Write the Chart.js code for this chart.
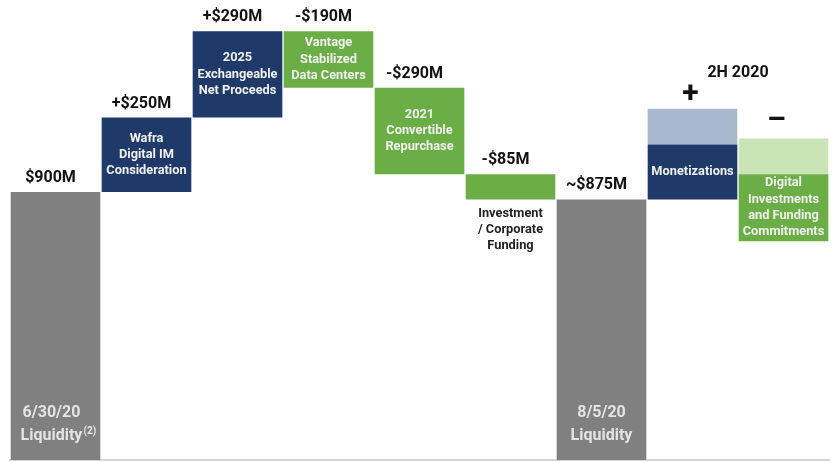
<!DOCTYPE html>
<html>
<head>
<meta charset="utf-8">
<script src="https://cdn.jsdelivr.net/npm/chart.js@4"></script>
<style>
  body { margin: 0; background: #fff; }
  #wrap { width: 832px; height: 462px; }
</style>
</head>
<body>
<div id="wrap"><canvas id="liquidityChart" width="832" height="462"></canvas></div>
<script>
// Bridge of liquidity ($M), waterfall bars as [start, end]
const categories = ["6/30/20 Liquidity", "Wafra Digital IM", "2025 Exchangeable", "Vantage", "2021 Convertible",
    "Investment / Corporate", "8/5/20 Liquidity", "Monetizations", "Digital Investments"];
const barStart = [0, 900, 1150, 1250, 960, 875, 0, 875, 735];
const barEnd = [900, 1150, 1440, 1440, 1250, 960, 875, 1060, 960];
// lighter "range" blocks on the 2H 2020 bars
const rangeStart = [null, null, null, null, null, null, null, 1060, 960];
const rangeEnd = [null, null, null, null, null, null, null, 1180, 1080];
const valueLabels = ["$900M", "+$250M", "+$290M", "-$190M", "-$290M", "-$85M", "~$875M", "", ""];
const innerLabels = [
    [],
    ["Wafra", "Digital IM", "Consideration"],
    ["2025", "Exchangeable", "Net Proceeds"],
    ["Vantage", "Stabilized", "Data Centers"],
    ["2021", "Convertible", "Repurchase"],
    [],
    [],
    ["Monetizations"],
    ["Digital", "Investments", "and Funding", "Commitments"]
];
const belowLabels = [[], [], [], [], [], ["Investment", "/ Corporate", "Funding"], [], [], []];
const baseLabels = [["6/30/20", "Liquidity"], [], [], [], [], [], ["8/5/20", "Liquidity"], [], []];

const gray = "#808080", navy = "#1f3a68", green = "#6cae46";
const barColors = [gray, navy, navy, green, green, green, gray, navy, green];
const rangeColors = [null, null, null, null, null, null, null, "#a9b8cd", "#cbe4b6"];

const FONT = "Roboto, 'Liberation Sans', Arial, sans-serif";

const labelPlugin = {
    id: "labels",
    afterDatasetsDraw(chart) {
        let ctx = chart.ctx;
        let meta = chart.getDatasetMeta(0);
        ctx.save();
        ctx.textAlign = "center";
        ctx.textBaseline = "middle";
        meta.data.forEach((bar, i) => {
            let x = bar.x;
            let top = Math.min(bar.y, bar.base);
            let bottom = Math.max(bar.y, bar.base);
            // value above bar
            if (valueLabels[i]) {
                ctx.fillStyle = "#111";
                ctx.font = "bold 16px " + FONT;
                ctx.fillText(valueLabels[i], x - 5, top - 14);
            }
            // text inside bar
            let lines = innerLabels[i];
            if (lines.length) {
                ctx.fillStyle = "#f0f0f0";
                ctx.font = "bold 12.8px " + FONT;
                let mid = (top + bottom) / 2;
                let lh = 16.3;
                lines.forEach((t, k) => {
                    ctx.fillText(t, x, mid + (k - (lines.length - 1) / 2) * lh);
                });
            }
            // text under bar
            belowLabels[i].forEach((t, k) => {
                ctx.fillStyle = "#222";
                ctx.font = "bold 12.8px " + FONT;
                ctx.fillText(t, x, bottom + 14 + k * 16.3);
            });
            // date labels at base
            baseLabels[i].forEach((t, k) => {
                ctx.fillStyle = "#e4e4e4";
                ctx.font = "bold 16px " + FONT;
                ctx.fillText(t, x - (i === 0 ? 4 : 0), bottom - 47 + k * 23);
            });
        });
        // superscript (2)
        let b0 = meta.data[0];
        ctx.font = "bold 16px " + FONT;
        let w = ctx.measureText("Liquidity").width;
        ctx.font = "bold 10px " + FONT;
        ctx.fillStyle = "#e4e4e4";
        ctx.textAlign = "left";
        ctx.fillText("(2)", b0.x - 4 + w / 2 + 1, b0.base - 29);

        // 2H 2020 header with + and -
        let m7 = chart.getDatasetMeta(1).data[7];
        let m8 = chart.getDatasetMeta(1).data[8];
        ctx.textAlign = "center";
        ctx.fillStyle = "#111";
        ctx.font = "bold 16px " + FONT;
        ctx.fillText("2H 2020", (m7.x + m8.x) / 2, 73);
        ctx.font = "bold 30px " + FONT;
        ctx.fillText("+", m7.x - 2, Math.min(m7.y, m7.base) - 14);
        ctx.fillText("\u2013", m8.x - 7, Math.min(m8.y, m8.base) - 17);
        ctx.restore();
    }
};

new Chart(document.getElementById("liquidityChart"), {
    type: "bar",
    data: {
        labels: categories,
        datasets: [{
            label: "Liquidity bridge",
            data: categories.map((c, i) => [barStart[i], barEnd[i]]),
            backgroundColor: barColors,
            grouped: false,
            barPercentage: 0.985,
            categoryPercentage: 1
        }, {
            label: "2H 2020 range",
            data: categories.map((c, i) => rangeStart[i] === null ? null : [rangeStart[i], rangeEnd[i]]),
            backgroundColor: rangeColors,
            grouped: false,
            barPercentage: 0.985,
            categoryPercentage: 1
        }]
    },
    options: {
        responsive: false,
        animation: false,
        layout: { padding: { left: 10, right: 3, top: 0, bottom: 2 } },
        plugins: {
            legend: { display: false },
            tooltip: { enabled: false }
        },
        scales: {
            x: {
                ticks: { display: false },
                grid: { display: false, drawTicks: false },
                border: { display: true, color: "#d4d4d4", width: 2 }
            },
            y: {
                min: 0,
                max: 1545,
                display: false
            }
        }
    },
    plugins: [labelPlugin]
});
</script>
</body>
</html>
